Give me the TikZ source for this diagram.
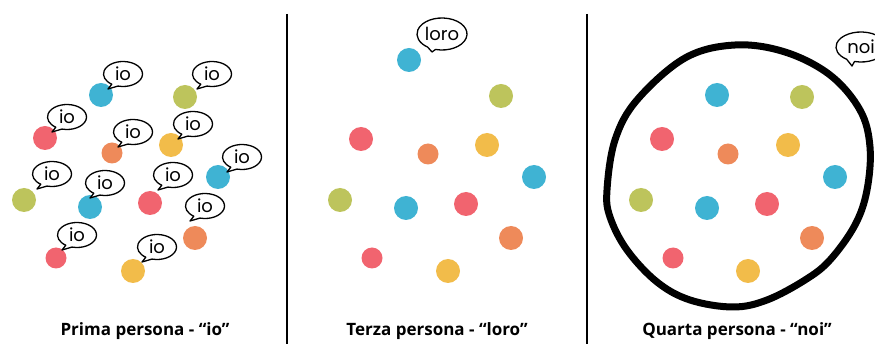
\documentclass[tikz,border=0pt]{standalone}
\usepackage{fontspec}
\setmainfont{Open Sans}
\newfontfamily\bubfont{Poppins}
\definecolor{cblue}{HTML}{3FB3D3}
\definecolor{cgreen}{HTML}{BDC45C}
\definecolor{cred}{HTML}{F1646F}
\definecolor{corange}{HTML}{EE8A5A}
\definecolor{cyellow}{HTML}{F2BC4A}
\tikzset{
  dot/.style={circle,minimum size=24pt,inner sep=0pt,draw=none},
  smalldot/.style={dot,minimum size=21pt},
  bubtext/.style={inner sep=0pt,font=\bubfont\fontsize{18}{18}\selectfont},
  bubline/.style={draw=black,line width=1.3pt,line join=round,fill=white},
  divider/.style={line width=2.2pt,black},
  title/.style={anchor=base,font=\bfseries\fontsize{17}{17}\selectfont},
  loop/.style={line width=7pt,black,line join=round}
}
% name, x, y, text, rx, ry, tail dx, tail dy
\newcommand\speech[8]{%
  \path[bubline] ([shift={(255:#5pt and #6pt)}]#1) arc[start angle=255,end angle=595,x radius=#5pt,y radius=#6pt] -- ([shift={(#7pt,#8pt)}]#1) -- cycle;
  \node[bubtext] (#1t) at (#1) {#4};}
\begin{document}
\begin{tikzpicture}[x=1pt,y=-1pt]
\useasboundingbox (0,0) rectangle (875,344);
% dividers
\coordinate (d1a) at (287,14); \coordinate (d1b) at (287,344);
\coordinate (d2a) at (587,14); \coordinate (d2b) at (587,344);
\draw[divider] (d1a) -- (d1b);
\draw[divider] (d2a) -- (d2b);

% ---------- panel 1 ----------
\node[dot,fill=cblue] (p1a) at (101,95) {};
\node[dot,fill=cgreen] (p1b) at (185,97) {};
\node[dot,fill=cred] (p1c) at (45,138) {};
\node[smalldot,fill=corange] (p1d) at (112,153) {};
\node[dot,fill=cyellow] (p1e) at (171,145) {};
\node[dot,fill=cblue] (p1f) at (218,177) {};
\node[dot,fill=cgreen] (p1g) at (24,200) {};
\node[dot,fill=cblue] (p1h) at (90,207) {};
\node[dot,fill=cred] (p1i) at (150,203) {};
\node[dot,fill=corange] (p1j) at (195,238) {};
\node[smalldot,fill=cred] (p1k) at (56,258) {};
\node[dot,fill=cyellow] (p1l) at (133,271) {};

\coordinate (b1) at (123,74);  \speech{b1}{}{}{io}{19.5}{12.5}{-15}{-15}
\coordinate (b2) at (212,74);  \speech{b2}{}{}{io}{19.5}{12.5}{-15}{-15}
\coordinate (b3) at (67,117);  \speech{b3}{}{}{io}{19.5}{12.5}{-15}{-15}
\coordinate (b4) at (133,132); \speech{b4}{}{}{io}{19.5}{12.5}{-15}{-15}
\coordinate (b5) at (193,124); \speech{b5}{}{}{io}{19.5}{12.5}{-15}{-15}
\coordinate (b6) at (242,157); \speech{b6}{}{}{io}{19.5}{12.5}{-15}{-15}
\coordinate (b7) at (52,174);  \speech{b7}{}{}{io}{19.5}{12.5}{-15}{-15}
\coordinate (b8) at (105,183); \speech{b8}{}{}{io}{19.5}{12.5}{-15}{-15}
\coordinate (b9) at (173,175); \speech{b9}{}{}{io}{19.5}{12.5}{-15}{-15}
\coordinate (b10) at (205,206); \speech{b10}{}{}{io}{19.5}{12.5}{-15}{-15}
\coordinate (b11) at (77,235); \speech{b11}{}{}{io}{19.5}{12.5}{-15}{-15}
\coordinate (b12) at (157,247); \speech{b12}{}{}{io}{19.5}{12.5}{-15}{-15}

% ---------- panel 2 ----------
\node[dot,fill=cblue] (p2a) at (409,60) {};
\node[dot,fill=cgreen] (p2b) at (501,96) {};
\node[dot,fill=cred] (p2c) at (361,139) {};
\node[smalldot,fill=corange] (p2d) at (428,154) {};
\node[dot,fill=cyellow] (p2e) at (487,145) {};
\node[dot,fill=cblue] (p2f) at (534,177) {};
\node[dot,fill=cgreen] (p2g) at (340,200) {};
\node[dot,fill=cblue] (p2h) at (406,208) {};
\node[dot,fill=cred] (p2i) at (466,204) {};
\node[dot,fill=corange] (p2j) at (511,238) {};
\node[smalldot,fill=cred] (p2k) at (372,258) {};
\node[dot,fill=cyellow] (p2l) at (448,271) {};
\coordinate (bl) at (442,34); \speech{bl}{}{}{loro}{25}{16}{-10}{-18}

% ---------- panel 3 ----------
\draw[loop] plot[smooth cycle,tension=0.6] coordinates {
 (735,45) (785,52) (830,75) (860,110) (870,147) (867,190) (855,225)
 (830,260) (805,280) (767,300) (733,307) (690,300) (657,282) (627,250)
 (610,217) (607,190) (615,140) (637,100) (685,58)};
\node[dot,fill=cblue] (p3a) at (717,95) {};
\node[dot,fill=cgreen] (p3b) at (802,97) {};
\node[dot,fill=cred] (p3c) at (662,139) {};
\node[smalldot,fill=corange] (p3d) at (728,154) {};
\node[dot,fill=cyellow] (p3e) at (788,145) {};
\node[dot,fill=cblue] (p3f) at (835,177) {};
\node[dot,fill=cgreen] (p3g) at (641,200) {};
\node[dot,fill=cblue] (p3h) at (707,208) {};
\node[dot,fill=cred] (p3i) at (767,204) {};
\node[dot,fill=corange] (p3j) at (812,238) {};
\node[smalldot,fill=cred] (p3k) at (673,258) {};
\node[dot,fill=cyellow] (p3l) at (748,271) {};
\coordinate (bn) at (861,47); \speech{bn}{}{}{noi}{25}{15}{-9}{-19}

% titles
\node[title] (t1) at (145,336) {Prima persona - “io”};
\node[title] (t2) at (437,336) {Terza persona - “loro”};
\node[title] (t3) at (737,336) {Quarta persona - “noi”};
\end{tikzpicture}
\end{document}
